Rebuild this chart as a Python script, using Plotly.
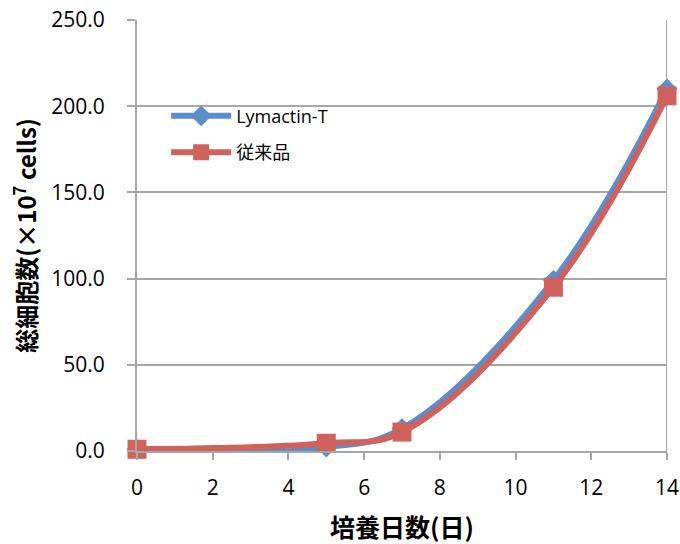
import plotly.graph_objects as go

days = [0, 5, 7, 11, 14]
lymactin = [1.0, 2.3, 13.0, 99.0, 210.0]
conventional = [1.0, 4.5, 11.0, 95.0, 206.0]
series_names = ["Lymactin-T", "従来品"]

font_fam = "Open Sans, Noto Sans CJK JP, sans-serif"
blue = "#5b8ecb"
red = "#cf625c"

fig = go.Figure()
fig.add_trace(go.Scatter(
    x=days, y=lymactin, name=series_names[0], mode="lines+markers",
    legendgroup="a", cliponaxis=False,
    line=dict(color=blue, width=6, shape="spline", smoothing=1.1),
    marker=dict(symbol="diamond", size=16, color=blue),
))
fig.add_trace(go.Scatter(
    x=days, y=conventional, name=series_names[1], mode="lines+markers",
    legendgroup="b", cliponaxis=False,
    line=dict(color=red, width=6, shape="spline", smoothing=1.1),
    marker=dict(symbol="square", size=19, color=red),
))

fig.update_layout(
    width=680, height=544,
    margin=dict(l=137, r=13, t=20, b=93, autoexpand=False),
    paper_bgcolor="white", plot_bgcolor="white",
    font=dict(family=font_fam, size=21, color="#000000"),
    showlegend=True,
    legend=dict(x=0.055, y=0.82, xanchor="left", yanchor="top",
                bgcolor="rgba(0,0,0,0)", font=dict(size=18, family=font_fam),
                itemwidth=60, tracegroupgap=10),
    xaxis=dict(
        range=[0, 14], dtick=2, tick0=0,
        showgrid=False, showline=True, linecolor="#a6a6a6", linewidth=2,
        mirror=False, ticks="outside", ticklen=7, tickcolor="#a6a6a6", tickwidth=2,
        zeroline=False, tickfont=dict(size=21), ticklabelstandoff=10,
        title=dict(text="<b>培養日数(日)</b>", font=dict(size=25, family="Noto Sans CJK JP"), standoff=22),
    ),
    yaxis=dict(
        range=[0, 250], dtick=50, tickformat=".1f",
        showgrid=True, gridcolor="#a6a6a6", gridwidth=1.5,
        showline=True, linecolor="#a6a6a6", linewidth=2,
        ticks="outside", ticklen=8, tickcolor="#a6a6a6", tickwidth=2,
        zeroline=False, tickfont=dict(size=21),
        ticklabelposition="outside", ticklabelstandoff=18,
        title=dict(text="<b>総細胞数(×10<sup>7</sup> cells)</b>", font=dict(size=24, family="Noto Sans CJK JP"), standoff=8),
    ),
)
fig.add_shape(type="line", xref="x", yref="paper", x0=14, x1=14, y0=0, y1=1,
              line=dict(color="#a6a6a6", width=2), layer="below")
# white legend box patch that interrupts the 200 gridline, as in the reference
fig.add_shape(type="rect", xref="paper", yref="paper", x0=0.179, x1=0.468, y0=0.787, y1=0.814,
              line=dict(width=0), fillcolor="white", layer="between")

fig.write_html("out.html", post_script="document.body.style.margin='0';",
               config={"displayModeBar": False})
